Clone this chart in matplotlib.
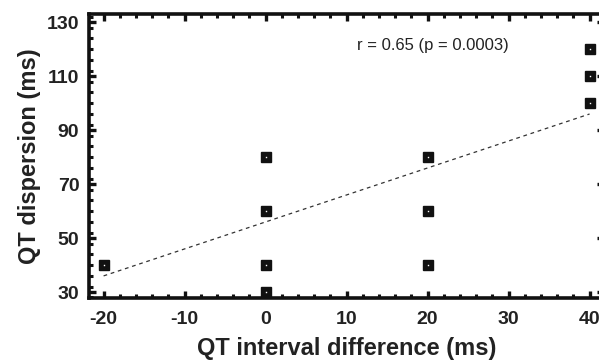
import matplotlib.pyplot as plt
from matplotlib.ticker import MultipleLocator

plt.rcParams['font.family'] = ['Liberation Sans', 'DejaVu Sans']
plt.rcParams['axes.unicode_minus'] = False

# QT interval difference (ms) vs QT dispersion (ms)
qt_diff = [-20, 0, 0, 0, 0, 20, 20, 20, 40, 40, 40]
qt_disp = [40, 80, 60, 40, 30, 80, 60, 40, 120, 110, 100]

# regression line as drawn in the figure
fit_x = [-20, 40]
fit_y = [36, 96]

annotation = "r = 0.65 (p = 0.0003)"

fig = plt.figure(figsize=(5.99, 3.63), dpi=100)
ax = fig.add_axes([0.1486, 0.179, 0.86, 0.782])

ax.plot(fit_x, fit_y, linestyle=(0, (3, 3)), color='#333333', linewidth=0.9)
ax.plot(qt_diff, qt_disp, linestyle='none', marker='s', markersize=6.5,
        markerfacecolor='#111111', markeredgecolor='#111111', clip_on=False, zorder=3)
ax.plot(qt_diff, qt_disp, linestyle='none', marker='s', markersize=1,
        markerfacecolor='white', markeredgecolor='none', clip_on=False, zorder=4)

ax.set_xlim(-21.8, 41.8)
ax.set_ylim(27.8, 133)
ax.xaxis.set_major_locator(MultipleLocator(10))
ax.xaxis.set_minor_locator(MultipleLocator(2))
ax.yaxis.set_major_locator(MultipleLocator(20))
ax.yaxis.set_minor_locator(MultipleLocator(4))
ax.set_yticks([30, 50, 70, 90, 110, 130])

for s in ax.spines.values():
    s.set_linewidth(2.6)
    s.set_color('#111111')

ax.tick_params(which='both', direction='in', top=True, right=True, color='#111111')
ax.tick_params(which='major', length=5, width=2.4)
ax.tick_params(which='minor', length=3, width=2.2)
ax.tick_params(axis='x', which='major', pad=9)
ax.tick_params(axis='y', which='major', pad=7)

for lab in ax.get_xticklabels() + ax.get_yticklabels():
    lab.set_fontweight('bold')
    lab.set_fontsize(14)
    lab.set_color('#222222')

ax.set_xlabel("QT interval difference (ms)", fontsize=17, fontweight='bold',
              color='#222222', labelpad=7)
ax.set_ylabel("QT dispersion (ms)", fontsize=17, fontweight='bold',
              color='#222222', labelpad=4)

ax.text(20.6, 121.5, annotation, fontsize=12, ha='center', va='center', color='#222222')

fig.savefig("out.png", dpi=100)
